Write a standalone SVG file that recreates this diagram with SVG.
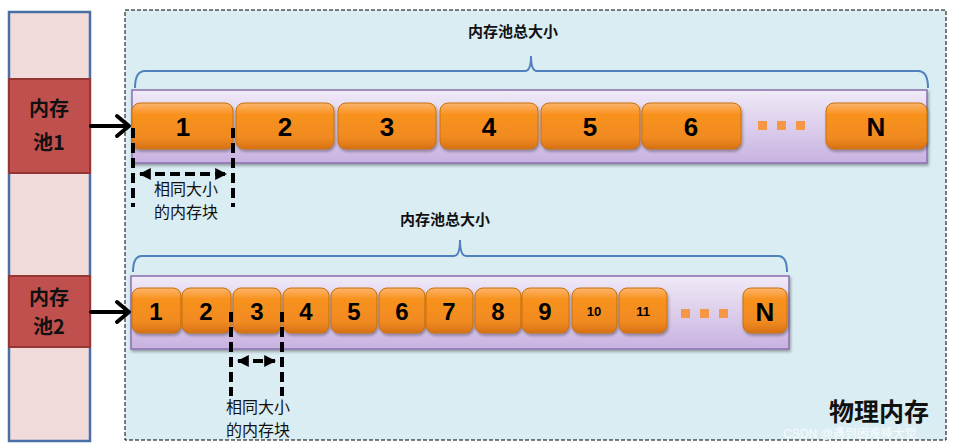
<svg xmlns="http://www.w3.org/2000/svg" width="956" height="448" viewBox="0 0 956 448">
<defs>
<linearGradient id="blk" x1="0" y1="0" x2="0" y2="1">
<stop offset="0" stop-color="#fcb46c"/>
<stop offset="0.25" stop-color="#f8921f"/>
<stop offset="0.75" stop-color="#f08a20"/>
<stop offset="1" stop-color="#d87216"/>
</linearGradient>
<linearGradient id="bar" x1="0" y1="0" x2="0" y2="1">
<stop offset="0" stop-color="#f0eaf7"/>
<stop offset="1" stop-color="#c8b2e0"/>
</linearGradient>
<filter id="sh" x="-10%" y="-10%" width="130%" height="140%">
<feDropShadow dx="1" dy="2" stdDeviation="1.5" flood-color="#000" flood-opacity="0.35"/>
</filter>
<marker id="tri" viewBox="0 0 10 10" refX="9" refY="5" markerWidth="3" markerHeight="3" orient="auto-start-reverse">
<path d="M0,0 L10,5 L0,10 z" fill="#000"/>
</marker>
</defs>
<style>
.blk{fill:url(#blk);stroke:#c8700f;stroke-width:1;filter:url(#sh)}
.bar{fill:url(#bar);stroke:#8a6fae;stroke-width:1.5;filter:url(#sh)}
.num{font-family:"Liberation Sans",Arial,sans-serif;font-weight:bold;fill:#000;text-anchor:middle}
.cn{font-family:"Noto Sans CJK SC",sans-serif;fill:#111;text-anchor:middle}
.brace{fill:none;stroke:#4f81bd;stroke-width:2}
.dash{stroke:#000;stroke-width:4;stroke-dasharray:10,5;fill:none}
.arr{stroke:#000;stroke-width:4;fill:none;stroke-linecap:round;stroke-linejoin:round}
.dot{fill:#f79646}
</style>
<rect x="0" y="0" width="956" height="448" fill="#fff"/>
<g id="physical">
<rect x="125" y="10" width="821" height="430" fill="#daedf3" stroke="#000" stroke-width="1" stroke-dasharray="4,2"/>
<text x="879" y="421" font-family="'Liberation Serif','Noto Sans CJK SC',serif" font-size="25" font-weight="bold" text-anchor="middle" fill="#111">物理内存</text>
</g>
<g id="left-column">
<rect x="9" y="12" width="81" height="429" fill="#f2dcdb" stroke="#4a6fa5" stroke-width="2.5"/>
</g>
<g id="pool1">
<rect x="9" y="79" width="81" height="94" fill="#c0504d" stroke="#943634" stroke-width="2"/>
<text class="cn" x="49" y="116" font-size="20" font-weight="bold">内存</text>
<text class="cn" x="49" y="150" font-size="20" font-weight="bold">池1</text>
</g>
<g id="pool2">
<rect x="9" y="276" width="81" height="71" fill="#c0504d" stroke="#943634" stroke-width="2"/>
<text class="cn" x="49" y="305" font-size="20" font-weight="bold">内存</text>
<text class="cn" x="49" y="334" font-size="20" font-weight="bold">池2</text>
</g>
<g id="row1">
<text class="cn" x="513" y="37" font-size="15" font-weight="bold">内存池总大小</text>
<path class="brace" d="M135,88 Q135,71 145,71 L525,71 Q531,71 531,56 Q531,71 537,71 L918,71 Q928,71 928,88"/>
<rect class="bar" x="132" y="90" width="795" height="73"/>
<rect class="blk" x="132" y="103" width="101" height="46" rx="8"/>
<rect class="blk" x="236" y="103" width="98" height="46" rx="8"/>
<rect class="blk" x="338" y="103" width="98" height="46" rx="8"/>
<rect class="blk" x="440" y="103" width="98" height="46" rx="8"/>
<rect class="blk" x="541" y="103" width="99" height="46" rx="8"/>
<rect class="blk" x="642" y="103" width="99" height="46" rx="8"/>
<rect class="blk" x="826" y="103" width="101" height="46" rx="8"/>
<text class="num" x="183" y="136" font-size="26">1</text>
<text class="num" x="285" y="136" font-size="26">2</text>
<text class="num" x="387" y="136" font-size="26">3</text>
<text class="num" x="489" y="136" font-size="26">4</text>
<text class="num" x="590" y="136" font-size="26">5</text>
<text class="num" x="691" y="136" font-size="26">6</text>
<text class="num" x="876" y="136" font-size="26">N</text>
<rect class="dot" x="758" y="121" width="9" height="9"/>
<rect class="dot" x="777" y="121" width="9" height="9"/>
<rect class="dot" x="796" y="121" width="9" height="9"/>
</g>
<g id="row2">
<text class="cn" x="445" y="225" font-size="15" font-weight="bold">内存池总大小</text>
<path class="brace" d="M133,272 Q133,256 142,256 L454,256 Q460,256 460,240 Q460,256 466,256 L778,256 Q787,256 787,272"/>
<rect class="bar" x="131" y="276" width="658" height="73"/>
<rect class="blk" x="132" y="288" width="49" height="45" rx="8"/>
<rect class="blk" x="182" y="288" width="49" height="45" rx="8"/>
<rect class="blk" x="233" y="288" width="48" height="45" rx="8"/>
<rect class="blk" x="283" y="288" width="46" height="45" rx="8"/>
<rect class="blk" x="331" y="288" width="46" height="45" rx="8"/>
<rect class="blk" x="379" y="288" width="46" height="45" rx="8"/>
<rect class="blk" x="426" y="288" width="47" height="45" rx="8"/>
<rect class="blk" x="475" y="288" width="46" height="45" rx="8"/>
<rect class="blk" x="522" y="288" width="47" height="45" rx="8"/>
<rect class="blk" x="572" y="288" width="45" height="45" rx="8"/>
<rect class="blk" x="619" y="288" width="48" height="45" rx="8"/>
<rect class="blk" x="743" y="288" width="44" height="45" rx="8"/>
<text class="num" x="156" y="320" font-size="24">1</text>
<text class="num" x="206" y="320" font-size="24">2</text>
<text class="num" x="257" y="320" font-size="24">3</text>
<text class="num" x="306" y="320" font-size="24">4</text>
<text class="num" x="354" y="320" font-size="24">5</text>
<text class="num" x="402" y="320" font-size="24">6</text>
<text class="num" x="449" y="320" font-size="24">7</text>
<text class="num" x="498" y="320" font-size="24">8</text>
<text class="num" x="545" y="320" font-size="24">9</text>
<text class="num" x="594" y="316" font-size="13">10</text>
<text class="num" x="643" y="316" font-size="13">11</text>
<text class="num" x="765" y="321" font-size="26">N</text>
<rect class="dot" x="681" y="309" width="9" height="9"/>
<rect class="dot" x="700" y="309" width="9" height="9"/>
<rect class="dot" x="719" y="309" width="9" height="9"/>
</g>
<g id="connectors">
<line class="arr" x1="91" y1="126" x2="128" y2="126"/>
<polyline class="arr" points="117,116 129,126 117,136"/>
<line class="arr" x1="91" y1="312" x2="128" y2="312"/>
<polyline class="arr" points="117,302 129,312 117,322"/>
<line class="dash" x1="133" y1="128" x2="133" y2="207"/>
<line class="dash" x1="233" y1="128" x2="233" y2="207"/>
<line class="dash" x1="140" y1="174" x2="226" y2="174" marker-start="url(#tri)" marker-end="url(#tri)"/>
<line class="dash" x1="231" y1="312" x2="231" y2="396"/>
<line class="dash" x1="282" y1="312" x2="282" y2="396"/>
<line class="dash" x1="238" y1="361" x2="275" y2="361" marker-start="url(#tri)" marker-end="url(#tri)"/>
</g>
<g id="labels">
<text class="cn" x="186" y="195" font-size="16">相同大小</text>
<text class="cn" x="186" y="218" font-size="16">的内存块</text>
<text class="cn" x="258" y="413" font-size="16">相同大小</text>
<text class="cn" x="258" y="436" font-size="16">的内存块</text>
<text x="850" y="438" font-family="'Liberation Sans','Noto Sans CJK SC',sans-serif" font-size="12" fill="#fff" fill-opacity="0.8" text-anchor="middle">CSDN @遇到困难睡大觉</text>
</g>
</svg>
